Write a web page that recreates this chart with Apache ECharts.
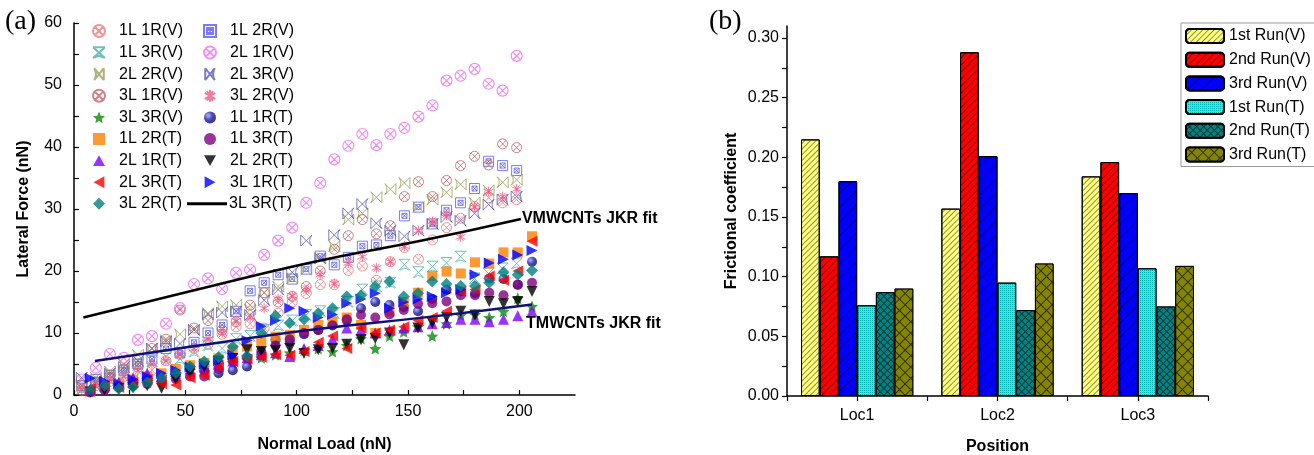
<!DOCTYPE html>
<html><head><meta charset="utf-8">
<script src="https://cdn.jsdelivr.net/npm/echarts@6/dist/echarts.min.js"></script>
<style>html,body{margin:0;padding:0;background:#fff}#c{width:1314px;height:455px}</style>
</head><body><div id="c"></div>
<script>
// ---------- data: panel (a) ----------
const XV = [3.5,9.8,16.1,22.4,28.7,35,41.3,47.6,53.9,60.2,66.5,72.8,79.1,85.4,91.7,98,104.3,110.6,116.9,123.2,129.5,135.8,142.1,148.4,154.7,161,167.3,173.6,179.9,186.2,192.5,198.8];
const XT = [7.3,13.7,20.1,26.5,32.9,39.3,45.7,52.1,58.5,64.9,71.3,77.7,84.1,90.5,96.9,103.3,109.7,116.1,122.5,128.9,135.3,141.7,148.1,154.5,160.9,167.3,173.7,180.1,186.5,192.9,199.3,205.7];

const Y_1L1R_V = [0.8,1.5,2.2,3.0,4.5,4.0,5.5,6.5,7.5,8.2,9.8,11.0,11.5,10.8,13.2,15.0,16.4,17.8,17.8,20.1,20.8,18.5,21.5,23.8,21.9,25.0,27.0,28.5,30.4,31.8,31.0,31.5];
const Y_1L2R_V = [1.5,2.5,3.2,4.0,5.0,5.8,7.5,6.8,8.5,10.0,11.3,13.5,16.8,18.1,19.4,18.7,20.3,22.4,21.0,22.2,24.0,24.2,25.7,28.9,30.3,27.6,29.8,31.0,33.3,37.7,37.0,36.2];
const Y_1L3R_V = [1.0,1.8,2.5,3.5,4.8,5.5,6.2,5.8,7.0,8.0,7.5,9.0,9.5,10.5,11.2,12.0,12.9,13.5,13.2,15.0,17.0,17.5,18.1,21.0,19.8,20.7,21.3,22.3,18.8,19.6,20.4,21.2];
const Y_2L1R_V = [2.5,4.4,6.6,6.0,8.9,9.5,11.5,14.0,17.9,18.8,17.1,19.7,20.2,22.6,24.9,27.0,31.0,34.2,38.0,40.2,42.1,40.3,42.1,43.1,44.9,46.7,50.7,51.5,52.6,50.2,49.1,54.7];
const Y_2L2R_V = [1.5,2.8,3.8,5.0,6.5,7.5,8.8,9.8,10.5,13.2,14.3,14.5,13.8,16.5,17.5,18.8,20.2,22.1,24.0,28.3,29.3,31.9,33.2,34.2,30.3,31.5,32.7,34.0,31.0,33.0,34.3,34.7];
const Y_2L3R_V = [2.8,2.2,3.5,4.5,5.5,7.5,8.6,8.3,10.5,13.0,13.3,13.5,12.9,15.3,17.0,19.8,24.9,22.0,25.8,29.3,30.8,27.7,26.5,25.6,26.5,27.6,28.7,28.1,29.3,30.7,31.5,32.0];
const Y_3L1R_V = [1.5,2.0,3.2,4.2,5.0,7.5,9.0,13.7,10.8,12.0,10.5,11.8,14.5,16.5,15.0,15.9,17.5,20.0,23.5,25.7,28.3,26.0,27.3,32.0,34.4,32.0,34.6,37.0,38.5,37.1,40.5,39.9];
const Y_3L2R_V = [1.0,1.5,2.5,3.0,4.0,5.0,5.5,6.5,7.5,9.0,10.0,12.0,12.5,14.0,15.5,16.0,17.0,19.4,18.0,21.3,22.3,20.5,21.5,24.0,26.5,28.0,29.0,25.5,30.3,32.8,32.0,33.2];
const Y_3L3R_V = [0.8,1.2,1.8,2.2,2.5,3.0,3.5,4.0,4.5,5.0,5.2,5.8,6.0,6.5,6.8,7.2,7.5,7.0,8.0,9.1,7.5,9.5,10.2,11.0,9.5,11.5,12.9,13.0,12.5,13.5,15.6,14.3];
const Y_1L1R_T = [0.5,1.0,1.5,2.0,2.5,3.0,3.5,4.5,4.0,3.5,4.0,4.6,6.5,8.9,8.6,9.8,10.5,11.3,12.0,14.0,15.0,14.5,14.2,13.5,15.5,17.0,16.7,16.4,18.8,18.7,17.8,21.5];
const Y_1L2R_T = [0.5,1.2,1.8,2.5,3.0,3.5,4.2,4.8,5.2,5.9,7.3,7.8,8.6,9.4,9.7,10.5,11.3,11.8,12.5,11.3,10.0,13.5,15.0,16.5,19.2,19.9,19.6,21.4,21.2,23.0,23.0,25.6];
const Y_1L3R_T = [0.4,0.8,1.2,1.5,1.8,2.2,2.6,3.0,3.0,4.2,5.5,6.0,7.0,8.0,9.0,10.0,10.5,11.2,12.2,12.9,12.5,13.0,13.7,14.7,14.8,15.1,16.1,16.1,16.5,16.1,17.8,18.1];
const Y_2L1R_T = [0.8,1.5,2.0,2.8,3.5,3.0,3.8,4.2,4.5,5.0,5.5,6.0,6.5,6.8,6.2,7.5,8.0,9.0,10.8,10.5,10.0,10.5,10.8,11.0,11.5,11.7,12.2,12.2,11.8,12.2,12.8,13.5];
const Y_2L2R_T = [0.5,0.8,1.0,1.2,1.5,1.1,2.5,3.5,4.5,5.5,5.9,7.3,7.0,7.2,7.5,6.7,7.3,7.5,8.2,8.9,9.1,10.0,8.1,10.8,11.6,12.5,13.5,12.9,15.1,14.7,15.1,16.7];
const Y_2L3R_T = [1.0,1.5,1.2,2.0,2.5,1.8,1.6,2.8,3.2,4.5,5.4,5.8,6.1,6.5,6.4,7.0,8.5,9.5,7.5,10.8,10.0,10.5,11.0,12.0,12.5,13.5,16.7,17.0,19.2,18.5,20.0,24.8];
const Y_3L1R_T = [2.7,2.2,1.8,2.5,3.0,3.5,4.0,4.5,5.0,5.5,6.5,8.8,11.1,12.0,14.0,13.5,12.5,13.0,14.8,15.5,16.4,14.0,15.0,15.5,15.9,16.5,17.0,19.4,21.3,21.9,22.6,23.3];
const Y_3L2R_T = [0.8,1.5,1.0,1.3,2.0,2.8,3.5,4.6,5.4,6.1,7.8,6.3,10.0,12.8,11.6,12.2,13.2,14.0,15.9,16.1,17.5,18.3,15.9,16.4,18.3,17.9,17.6,17.6,18.1,19.8,19.4,20.1];

const FIT_V_X = [4.2,54,108,157.4,200.7];
const FIT_V_Y = [12.5,16.9,21.5,25.0,28.4];
const FIT_T_X = [9.4,54.3,105.8,159.6,205.7];
const FIT_T_Y = [5.5,7.9,10.5,12.6,14.6];

// ---------- data: panel (b) ----------
const LOCS = ['Loc1','Loc2','Loc3'];
const RUN1_V = [0.215,0.157,0.184];
const RUN2_V = [0.117,0.288,0.196];
const RUN3_V = [0.180,0.201,0.170];
const RUN1_T = [0.076,0.095,0.107];
const RUN2_T = [0.087,0.072,0.075];
const RUN3_T = [0.090,0.111,0.109];

// ---------- styling ----------
const FONT = 'Liberation Sans, Arial, Helvetica, sans-serif';
const SYM = {
  circX: 'path://M20,10A10,10,0,1,1,0,10A10,10,0,1,1,20,10ZM3,3L17,17M17,3L3,17',
  sqX: 'path://M0,0L20,0L20,20L0,20ZM5,5L15,5L15,15L5,15ZM5,5L15,15M15,5L5,15',
  hourX: 'path://M0,1L20,1M0,1L20,19M20,1L0,19M2,19Q10,12,18,19',
  bowL: 'path://M18,0L18,20M18,0L2,20M2,0L18,20M2,0Q8,10,2,20',
  bowR: 'path://M2,0L2,20M2,0L18,20M18,0L2,20M18,0Q12,10,18,20',
  aster: 'path://M10,0L10,20M1.3,5L18.7,15M1.3,15L18.7,5M5,2L15,18M15,2L5,18',
  star: 'path://M10,0L12.9,6.9L20,7.6L14.6,12.3L16.2,19.3L10,15.6L3.8,19.3L5.4,12.3L0,7.6L7.1,6.9Z',
  triUp: 'path://M10,0L20,18L0,18Z',
  triDown: 'path://M0,0L20,0L10,18Z',
  triLeft: 'path://M0,10L18,0L18,20Z',
  triRight: 'path://M0,0L18,10L0,20Z'
};
const ball = {type:'radial',x:0.35,y:0.35,r:0.75,colorStops:[{offset:0,color:'#9aa0ff'},{offset:0.5,color:'#1a1a9a'},{offset:1,color:'#000060'}]};

const scatterDefs = [
  {name:'1L 1R(V)', x:XV, y:Y_1L1R_V, symbol:SYM.circX, size:10, color:'#f07a7a', hollow:true},
  {name:'1L 2R(V)', x:XV, y:Y_1L2R_V, symbol:SYM.sqX,   size:10, color:'#5a5aee', hollow:true},
  {name:'1L 3R(V)', x:XV, y:Y_1L3R_V, symbol:SYM.hourX, size:11, color:'#4cb2aa', hollow:true},
  {name:'2L 1R(V)', x:XV, y:Y_2L1R_V, symbol:SYM.circX, size:11, color:'#f070f0', hollow:true, bw:1.2},
  {name:'2L 2R(V)', x:XV, y:Y_2L2R_V, symbol:SYM.bowL,  size:11, color:'#9c9c58', hollow:true},
  {name:'2L 3R(V)', x:XV, y:Y_2L3R_V, symbol:SYM.bowR,  size:11, color:'#5c5cac', hollow:true},
  {name:'3L 1R(V)', x:XV, y:Y_3L1R_V, symbol:SYM.circX, size:10, color:'#c06464', hollow:true},
  {name:'3L 2R(V)', x:XV, y:Y_3L2R_V, symbol:SYM.aster, size:10, color:'#f05a88', hollow:true},
  {name:'3L 3R(V)', x:XT, y:Y_3L3R_V, symbol:SYM.star,  size:12, color:'#0a8a0a'},
  {name:'1L 1R(T)', x:XT, y:Y_1L1R_T, symbol:'circle',  size:10, color:ball},
  {name:'1L 2R(T)', x:XT, y:Y_1L2R_T, symbol:'rect',    size:10, color:'#ff8000'},
  {name:'1L 3R(T)', x:XT, y:Y_1L3R_T, symbol:'circle',  size:10, color:'#800080'},
  {name:'2L 1R(T)', x:XT, y:Y_2L1R_T, symbol:SYM.triUp,   size:11, color:'#8000ff'},
  {name:'2L 2R(T)', x:XT, y:Y_2L2R_T, symbol:SYM.triDown, size:11, color:'#000000'},
  {name:'2L 3R(T)', x:XT, y:Y_2L3R_T, symbol:SYM.triLeft, size:11, color:'#ff0000'},
  {name:'3L 1R(T)', x:XT, y:Y_3L1R_T, symbol:SYM.triRight,size:11, color:'#0000ff'},
  {name:'3L 2R(T)', x:XT, y:Y_3L2R_T, symbol:'diamond', size:12, color:'#008080'}
];

const series = scatterDefs.map(d => ({
  name: d.name, type: 'scatter', xAxisIndex: 0, yAxisIndex: 0,
  symbol: d.symbol, symbolSize: d.size,
  itemStyle: d.hollow ? {color:'rgba(255,255,255,0)', borderColor:d.color, borderWidth:d.bw||1} : {color:d.color},
  data: d.x.map((x,i) => [x, d.y[i]])
}));

series.push({
  name:'3L 3R(T)', type:'line', xAxisIndex:0, yAxisIndex:0, smooth:true, symbol:'none', showSymbol:false,
  lineStyle:{color:'#000', width:2.5}, itemStyle:{color:'#000'}, z:5,
  data: FIT_V_X.map((x,i)=>[x, FIT_V_Y[i]]),
  endLabel:{show:true, formatter:'VMWCNTs JKR fit', fontFamily:FONT, fontWeight:'bold', fontSize:16, color:'#000', distance:1, offset:[0,0]}
});
series.push({
  name:'TMWCNTs JKR fit', type:'line', xAxisIndex:0, yAxisIndex:0, smooth:true, symbol:'none', showSymbol:false,
  lineStyle:{color:'#10107a', width:2.5}, itemStyle:{color:'#10107a'}, z:5,
  data: FIT_T_X.map((x,i)=>[x, FIT_T_Y[i]]),
  endLabel:{show:true, formatter:'TMWCNTs JKR fit', fontFamily:FONT, fontWeight:'bold', fontSize:16, color:'#000', distance:-6, offset:[0,19]}
});

const barDefs = [
  {name:'1st Run(V)', data:RUN1_V, color:'#ffff80', decal:{symbol:'rect',symbolSize:1,color:'rgba(60,60,0,0.55)',dashArrayX:[1,0],dashArrayY:[1,3],rotation:-Math.PI/4}},
  {name:'2nd Run(V)', data:RUN2_V, color:'#ff0000', decal:{symbol:'rect',symbolSize:1,color:'rgba(60,0,0,0.6)',dashArrayX:[1,0],dashArrayY:[1,4],rotation:-Math.PI/4}},
  {name:'3rd Run(V)', data:RUN3_V, color:'#0000ff', decal:{symbol:'rect',symbolSize:1,color:'rgba(0,0,60,0.6)',dashArrayX:[1,0],dashArrayY:[1,9],rotation:-Math.PI/4}},
  {name:'1st Run(T)', data:RUN1_T, color:'#00ffff', decal:{symbol:'rect',symbolSize:1,color:'rgba(0,110,110,0.55)',dashArrayX:[1,1],dashArrayY:[1,1],rotation:0}},
  {name:'2nd Run(T)', data:RUN2_T, color:'#008080', decal:{symbol:'rect',symbolSize:1,color:'#008585',backgroundColor:'#003838',dashArrayX:[4,1],dashArrayY:[4,1],rotation:Math.PI/4}},
  {name:'3rd Run(T)', data:RUN3_T, color:'#808000', decal:{symbol:'rect',symbolSize:1,color:'#858500',backgroundColor:'#303000',dashArrayX:[7,1],dashArrayY:[7,1],rotation:Math.PI/4}}
];
barDefs.forEach(b => series.push({
  name:b.name, type:'bar', xAxisIndex:1, yAxisIndex:1, barGap:'0%', barCategoryGap:'20%',
  itemStyle:{color:b.color, borderColor:'#000', borderWidth:1, decal:b.decal},
  data:b.data
}));

const axisText = {fontFamily:FONT, fontSize:16, color:'#000'};
const nameText = {fontFamily:FONT, fontSize:16, fontWeight:'bold', color:'#000'};
const legendCommon = {orient:'vertical', itemWidth:12, itemHeight:12, itemGap:5.6, padding:0,
  textStyle:{fontFamily:FONT, fontSize:16, color:'#000', lineHeight:16, padding:[0,0,0,9]}};

const option = {
  animation:false,
  backgroundColor:'#fff',
  title:[
    {text:'(a)', left:5, top:8, padding:0, textStyle:{fontFamily:'Liberation Serif, Times New Roman, serif', fontSize:28, fontWeight:'normal', color:'#000'}},
    {text:'(b)', left:709, top:8, padding:0, textStyle:{fontFamily:'Liberation Serif, Times New Roman, serif', fontSize:28, fontWeight:'normal', color:'#000'}}
  ],
  legend:[
    Object.assign({}, legendCommon, {left:92, top:23,
      data:['1L 1R(V)','1L 3R(V)','2L 2R(V)','3L 1R(V)','3L 3R(V)','1L 2R(T)','2L 1R(T)','2L 3R(T)','3L 2R(T)']}),
    Object.assign({}, legendCommon, {left:203, top:23,
      data:['1L 2R(V)','2L 1R(V)','2L 3R(V)','3L 2R(V)','1L 1R(T)','1L 3R(T)','2L 2R(T)','3L 1R(T)']}),
    Object.assign({}, legendCommon, {left:187, top:23+8*21.6, itemWidth:40, itemHeight:3,
      textStyle:{fontFamily:FONT, fontSize:16, color:'#000', lineHeight:16, padding:[0,0,0,-3]},
      data:[{name:'3L 3R(T)', icon:'rect', itemStyle:{color:'#000'}}]}),
    {orient:'vertical', left:1181, top:23, itemWidth:38, itemHeight:14, itemGap:7.7,
      padding:[5,4,4,4], borderColor:'#999', borderWidth:1, backgroundColor:'#fff',
      textStyle:{fontFamily:FONT, fontSize:16, color:'#000', lineHeight:14},
      data:['1st Run(V)','2nd Run(V)','3rd Run(V)','1st Run(T)','2nd Run(T)','3rd Run(T)']}
  ],
  grid:[
    {left:74, top:23, width:501, height:372, containLabel:false, outerBoundsMode:'none'},
    {left:787, top:26, width:421, height:370, containLabel:false, outerBoundsMode:'none'}
  ],
  xAxis:[
    {type:'value', gridIndex:0, min:0, max:225, interval:25,
      name:'Normal Load (nN)', nameLocation:'middle', nameGap:42, nameTextStyle:nameText,
      axisLine:{show:true, onZero:false, lineStyle:{color:'#000', width:1.5}},
      axisTick:{show:true, inside:true, length:5, lineStyle:{color:'#000', width:1.2}},
      axisLabel:Object.assign({margin:9, showMaxLabel:false, formatter:v => (v % 50 === 0 ? String(v) : '')}, axisText),
      splitLine:{show:false}},
    {type:'category', gridIndex:1, data:LOCS, position:'bottom',
      name:'Position', nameLocation:'middle', nameGap:43, nameTextStyle:nameText,
      axisLine:{show:true, lineStyle:{color:'#000', width:1.5}},
      axisTick:{show:true, inside:false, length:5, lineStyle:{color:'#000', width:1.2}},
      axisLabel:Object.assign({margin:12}, axisText),
      splitLine:{show:false}},
    {type:'category', gridIndex:1, data:LOCS, position:'bottom',
      axisLine:{show:false},
      axisTick:{show:true, alignWithLabel:true, inside:false, length:5, lineStyle:{color:'#000', width:1.2}},
      axisLabel:{show:false}, splitLine:{show:false}}
  ],
  yAxis:[
    {type:'value', gridIndex:0, min:0, max:60, interval:5,
      name:'Lateral Force (nN)', nameLocation:'middle', nameGap:42, nameTextStyle:nameText,
      axisLine:{show:true, onZero:false, lineStyle:{color:'#000', width:1.5}},
      axisTick:{show:true, inside:true, length:5, lineStyle:{color:'#000', width:1.2}},
      axisLabel:Object.assign({margin:12, formatter:v => (v % 10 === 0 ? String(v) : '')}, axisText),
      splitLine:{show:false}},
    {type:'value', gridIndex:1, min:0, max:0.31, interval:0.025,
      name:'Frictional coefficient', nameLocation:'middle', nameGap:47, nameTextStyle:nameText,
      axisLine:{show:true, lineStyle:{color:'#000', width:1.5}},
      axisTick:{show:true, inside:false, length:5, lineStyle:{color:'#000', width:1.2}},
      axisLabel:Object.assign({margin:8, showMaxLabel:false, formatter:v => (Math.round(v*1000) % 50 === 0 ? v.toFixed(2) : '')}, axisText),
      splitLine:{show:false}}
  ],
  series: series
};

const chart = echarts.init(document.getElementById('c'), null, {renderer:'canvas'});
chart.setOption(option);
</script></body></html>
